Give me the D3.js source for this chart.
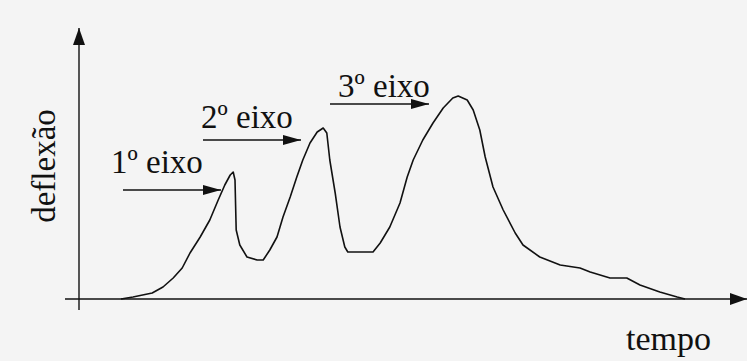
<!DOCTYPE html>
<html>
<head>
<meta charset="utf-8">
<script src="https://cdn.jsdelivr.net/npm/d3@7"></script>
<style>
  html, body { margin: 0; padding: 0; background: #f4f4f4; }
  svg { display: block; }
  text { font-family: "Liberation Serif", "DejaVu Serif", serif; fill: #111; }
</style>
</head>
<body>
<svg id="chart"></svg>
<script>
// time (arbitrary units) and deflection
var tempo = [7, 9, 12.2, 14, 15.7, 17.2, 18.5, 20.2, 21.8, 23.2, 24.3, 25.2, 25.7, 26, 26.2,
  26.8, 28, 29.7, 30.7, 31.8, 33, 34, 35.2, 36.3, 37.3, 38.5, 39.7, 40.7, 41.3, 41.8,
  42.7, 43.5, 44.3, 44.8, 49, 50.2, 51.8, 53.5, 54.7, 55.7, 57.3, 59, 60.7, 62.3, 63.2,
  64.7, 65.7, 66.8, 67.7, 69, 70.7, 72.7, 74, 76.8, 80.2, 83.5, 85.2, 88.5, 91.3, 93.5,
  96.8, 99.7, 101];
var deflexao = [0, 1, 3, 6, 10.5, 15.5, 23, 31, 39.5, 49.5, 57, 62, 63.5, 59.5, 34.5,
  27, 21, 19.5, 19.5, 24.5, 31, 41, 51, 61, 69.5, 78, 83.5, 85.5, 83, 69.5,
  53, 36, 26, 23.5, 23.5, 28, 36, 48, 61, 69.5, 79.5, 88, 95.5, 100.5, 101.5,
  99.5, 94.5, 84.5, 71, 56, 44.5, 33, 27, 21, 17, 15.5, 13.5, 10.5, 10.5, 7,
  3.5, 1, 0];

var eixoLabels = ["1", "2", "3"];
var axisLabels = { x: "tempo", y: "deflexão" };

var width = 747, height = 361;
var svg = d3.select("#chart").attr("width", width).attr("height", height);

var x = d3.scaleLinear().domain([0, 111]).range([79, 745]);
var y = d3.scaleLinear().domain([0, 135]).range([299, 29]);

var defs = svg.append("defs");
function marker(id, len, half) {
  defs.append("marker")
    .attr("id", id)
    .attr("viewBox", `0 ${-half} ${len} ${2 * half}`)
    .attr("refX", len).attr("refY", 0)
    .attr("markerUnits", "userSpaceOnUse")
    .attr("markerWidth", len).attr("markerHeight", 2 * half)
    .attr("orient", "auto")
    .append("path")
    .attr("d", `M0,${-half}L${len},0L0,${half}Z`)
    .attr("fill", "#111");
}
marker("axisHead", 17, 6);
marker("noteHead", 18, 5);

// axes
svg.append("line")
  .attr("x1", x(0)).attr("y1", y(0) + 11)
  .attr("x2", x(0)).attr("y2", 28)
  .attr("stroke", "#111").attr("stroke-width", 1.4)
  .attr("marker-end", "url(#axisHead)");

svg.append("line")
  .attr("x1", x(0) - 14).attr("y1", y(0))
  .attr("x2", 747).attr("y2", y(0))
  .attr("stroke", "#111").attr("stroke-width", 1.4)
  .attr("marker-end", "url(#axisHead)");

// trace
var pts = tempo.map((t, i) => ({ t: t, d: deflexao[i] }));
var line = d3.line()
  .x(d => x(d.t))
  .y(d => y(d.d));

svg.append("path")
  .datum(pts)
  .attr("d", line)
  .attr("fill", "none")
  .attr("stroke", "#111")
  .attr("stroke-width", 1.6)
  .attr("stroke-linejoin", "round");

// axis labels
svg.append("text")
  .attr("x", 626).attr("y", 350)
  .attr("font-size", 34)
  .text(axisLabels.x);

svg.append("text")
  .attr("transform", "translate(55,166) rotate(-90)")
  .attr("text-anchor", "middle")
  .attr("font-size", 33)
  .text(axisLabels.y);

// annotations: label + arrow towards each peak
var notes = [
  { tx: 111, ty: 173, ax1: 123, ax2: 221, ay: 190 },
  { tx: 201, ty: 128, ax1: 203, ax2: 301, ay: 140 },
  { tx: 338, ty: 97, ax1: 330, ax2: 429, ay: 104 }
];

notes.forEach((n, i) => {
  svg.append("text")
    .attr("x", n.tx).attr("y", n.ty)
    .attr("font-size", 33)
    .text(eixoLabels[i] + "º eixo");

  svg.append("line")
    .attr("x1", n.ax1).attr("y1", n.ay)
    .attr("x2", n.ax2).attr("y2", n.ay)
    .attr("stroke", "#111").attr("stroke-width", 1.4)
    .attr("marker-end", "url(#noteHead)");
});
</script>
</body>
</html>
